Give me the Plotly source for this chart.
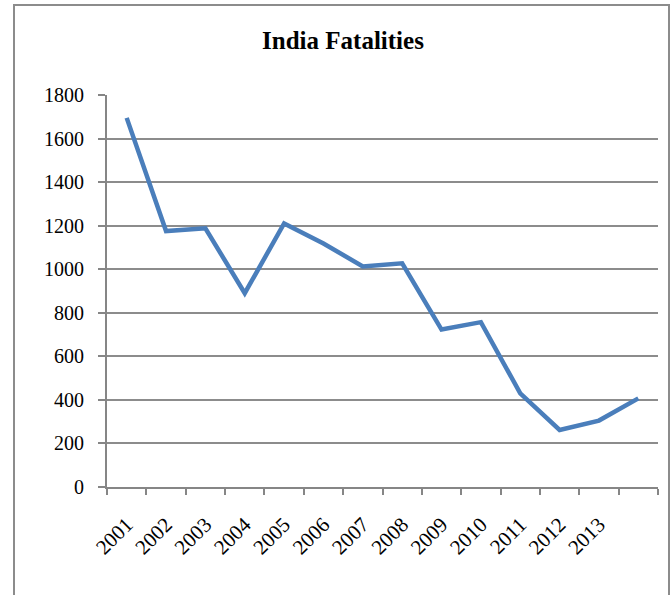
import plotly.graph_objects as go

categories = ["2001", "2002", "2003", "2004", "2005", "2006", "2007",
              "2008", "2009", "2010", "2011", "2012", "2013", " "]
fatalities = [1695, 1175, 1188, 890, 1210, 1118, 1013, 1027, 723, 757, 430, 262, 305, 407]
y_ticks = [0, 200, 400, 600, 800, 1000, 1200, 1400, 1600, 1800]

W, H = 672, 595
L, R, T, B = 107, 14, 95, 108
pw, ph = W - L - R, H - T - B

def px(x):
    return (x - L) / pw

def py(y):
    return (H - B - y) / ph

fig = go.Figure()
fig.add_trace(go.Scatter(
    x=categories, y=fatalities, mode="lines",
    line=dict(color="#4A7EBB", width=4.5),
    hoverinfo="skip", showlegend=False,
))

serif = "Liberation Serif"
fig.update_layout(
    width=W, height=H,
    margin=dict(l=L, r=R, t=T, b=B),
    paper_bgcolor="white", plot_bgcolor="white",
    title=dict(text="<b>India Fatalities</b>", xref="container", x=343 / W,
               xanchor="center", yref="container", y=1 - 40 / H, yanchor="middle",
               font=dict(family=serif, size=25, color="black")),
    font=dict(family=serif, size=20, color="black"),
    xaxis=dict(
        type="category", categoryorder="array", categoryarray=categories,
        tickson="boundaries", ticks="outside", ticklen=6, tickwidth=1.5,
        tickcolor="#868686", showline=True, linecolor="#868686", linewidth=2,
        showgrid=False, tickangle=-45, range=[-0.5, 13.5],
        tickfont=dict(family=serif, size=21, color="black"),
        ticklabelstandoff=15,
    ),
    yaxis=dict(
        range=[0, 1800], tickvals=y_ticks, ticks="outside", ticklen=7,
        tickwidth=1.5, tickcolor="#868686", showline=True, linecolor="#868686",
        linewidth=2, showgrid=True, gridcolor="#8C8C8C", gridwidth=1.5,
        zeroline=False, tickfont=dict(family=serif, size=20, color="black"),
        ticklabelstandoff=10,
    ),
    shapes=[dict(type="rect", xref="paper", yref="paper",
                 x0=px(14), x1=px(669), y0=py(620), y1=py(5),
                 line=dict(color="#8C8C8C", width=2), layer="below")],
)

fig.write_html("out.html")
